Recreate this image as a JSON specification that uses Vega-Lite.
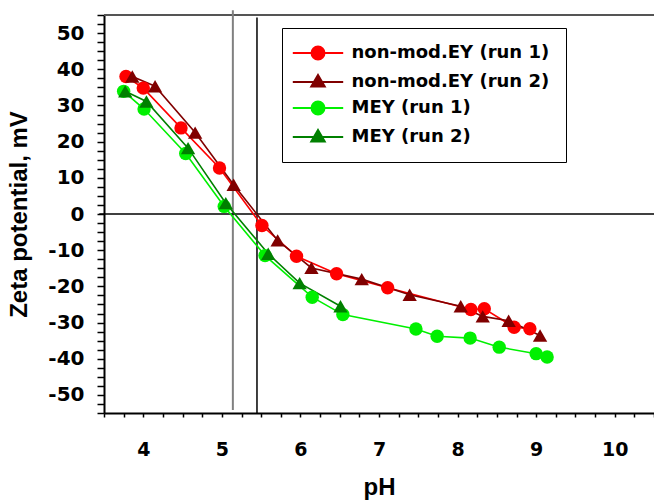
{
  "$schema": "https://vega.github.io/schema/vega-lite/v6.json",
  "width": 550,
  "height": 398,
  "autosize": "none",
  "padding": {"left": 104, "top": 15, "right": 0, "bottom": 87},
  "background": "white",
  "config": {
    "view": {"stroke": null},
    "axis": {
      "grid": false,
      "domainColor": "black",
      "domainWidth": 2,
      "tickColor": "black",
      "tickWidth": 1.5,
      "labelColor": "black",
      "labelFont": "DejaVu Sans",
      "labelFontWeight": "bold",
      "labelFontSize": 19,
      "titleColor": "black",
      "titleFont": "Liberation Sans",
      "titleFontWeight": "bold",
      "titleFontSize": 24,
      "labelOverlap": false,
      "labelFlush": false,
      "labelBound": false
    },
    "legend": {"strokeWidth": 1}
  },
  "layer": [
    {
      "data": {"values": [{"pH": 3.5, "pH2": 10.5, "zeta": 55}]},
      "mark": {"type": "rule", "color": "#555555", "strokeWidth": 2},
      "encoding": {
        "x": {"field": "pH", "type": "quantitative"},
        "x2": {"field": "pH2"},
        "y": {"field": "zeta", "type": "quantitative"}
      }
    },
    {
      "data": {"values": [{"pH": 5.14, "zeta": -54.2, "zeta2": 56.3}]},
      "mark": {"type": "rule", "color": "#808080", "strokeWidth": 2},
      "encoding": {
        "x": {"field": "pH", "type": "quantitative"},
        "y": {"field": "zeta", "type": "quantitative"},
        "y2": {"field": "zeta2"}
      }
    },
    {
      "data": {"values": [{"pH": 5.447, "zeta": -55, "zeta2": 54.3}]},
      "mark": {"type": "rule", "color": "black", "strokeWidth": 1.5},
      "encoding": {
        "x": {"field": "pH", "type": "quantitative"},
        "y": {"field": "zeta", "type": "quantitative"},
        "y2": {"field": "zeta2"}
      }
    },
    {
      "data": {"values": [{"pH": 3.44, "pH2": 10.5, "zeta": 0}]},
      "mark": {"type": "rule", "color": "black", "strokeWidth": 1.5},
      "encoding": {
        "x": {"field": "pH", "type": "quantitative"},
        "x2": {"field": "pH2"},
        "y": {"field": "zeta", "type": "quantitative"}
      }
    },
    {
      "data": {"name": "series"},
      "layer": [
        {
          "transform": [{"filter": "false"}],
          "mark": {"type": "point", "filled": true, "size": 144, "opacity": 1, "strokeWidth": 2},
          "encoding": {
            "x": {
              "field": "pH", "type": "quantitative",
              "scale": {"domain": [3.5, 10.5], "nice": false, "zero": false},
              "axis": {
                "title": "pH",
                "values": [3.5,3.75,4,4.25,4.5,4.75,5,5.25,5.5,5.75,6,6.25,6.5,6.75,7,7.25,7.5,7.75,8,8.25,8.5,8.75,9,9.25,9.5,9.75,10,10.25,10.5],
                "tickCount": 100,
                "labelExpr": "datum.value % 1 == 0 ? '' + datum.value : ''",
                "tickSize": 4,
                "labelPadding": 23,
                "titlePadding": 16,
                "encode": {"ticks": {"update": {
                  "y": [{"test": "datum.value % 1 == 0", "value": -6}, {"value": 0}],
                  "y2": [{"test": "datum.value % 1 == 0", "value": 4}, {"value": 3}]
                }}}
              }
            },
            "y": {
              "field": "zeta", "type": "quantitative",
              "scale": {"domain": [-55, 55], "nice": false, "zero": false},
              "axis": {
                "title": "Zeta potential, mV",
                "values": [-55,-52.5,-50,-47.5,-45,-42.5,-40,-37.5,-35,-32.5,-30,-27.5,-25,-22.5,-20,-17.5,-15,-12.5,-10,-7.5,-5,-2.5,0,2.5,5,7.5,10,12.5,15,17.5,20,22.5,25,27.5,30,32.5,35,37.5,40,42.5,45,47.5,50,52.5,55],
                "tickCount": 100,
                "labelExpr": "datum.value % 10 == 0 ? '' + datum.value : ''",
                "labelFontSize": 20,
                "tickSize": 7,
                "labelPadding": 13,
                "titlePadding": 16,
                "encode": {"ticks": {"update": {
                  "x": [{"test": "datum.value % 10 == 0", "value": 5}, {"value": 0}],
                  "x2": [{"test": "datum.value % 10 == 0", "value": -7}, {"value": -4}]
                }}}
              }
            },
            "color": {
              "field": "series", "type": "nominal",
              "scale": {"domain": ["non-mod.EY (run 1)", "non-mod.EY (run 2)", "MEY (run 1)", "MEY (run 2)"], "range": ["#ff0000", "#800000", "#00f000", "#008000"]},
              "legend": {
                "orient": "none", "legendX": 178, "legendY": 13, "title": null,
                "padding": 16, "strokeColor": "black", "fillColor": "white",
                "labelFont": "DejaVu Sans", "labelFontWeight": "bold", "labelFontSize": 18, "labelColor": "black", "labelLimit": 400,
                "symbolSize": 144, "symbolStrokeWidth": 2, "symbolOffset": 11, "labelOffset": 24.5, "rowPadding": 6
              }
            },
            "stroke": {
              "field": "series", "type": "nominal",
              "scale": {"domain": ["non-mod.EY (run 1)", "non-mod.EY (run 2)", "MEY (run 1)", "MEY (run 2)"], "range": ["#ff0000", "#800000", "#00f000", "#008000"]},
              "legend": {
                "orient": "none", "legendX": 178, "legendY": 13, "title": null,
                "padding": 16, "strokeColor": "black", "fillColor": "white",
                "labelFont": "DejaVu Sans", "labelFontWeight": "bold", "labelFontSize": 18, "labelColor": "black", "labelLimit": 400,
                "symbolSize": 144, "symbolStrokeWidth": 2, "symbolOffset": 11, "labelOffset": 24.5, "rowPadding": 6
              }
            },
            "shape": {
              "field": "series", "type": "nominal",
              "scale": {"domain": ["non-mod.EY (run 1)", "non-mod.EY (run 2)", "MEY (run 1)", "MEY (run 2)"], "range": ["M-4.2,0H4.2M1.08,0A1.08,1.08 0 1 1 -1.08,0A1.08,1.08 0 1 1 1.08,0Z", "M-4.2,0H4.2M0,-1.17L1.12,0.75L-1.12,0.75Z", "M-4.2,0H4.2M1.08,0A1.08,1.08 0 1 1 -1.08,0A1.08,1.08 0 1 1 1.08,0Z", "M-4.2,0H4.2M0,-1.17L1.12,0.75L-1.12,0.75Z"]},
              "legend": {
                "orient": "none", "legendX": 178, "legendY": 13, "title": null,
                "padding": 16, "strokeColor": "black", "fillColor": "white",
                "labelFont": "DejaVu Sans", "labelFontWeight": "bold", "labelFontSize": 18, "labelColor": "black", "labelLimit": 400,
                "symbolSize": 144, "symbolStrokeWidth": 2, "symbolOffset": 11, "labelOffset": 24.5, "rowPadding": 6
              }
            }
          }
        },
        {
          "mark": {"type": "line", "strokeWidth": 1.6},
          "encoding": {
            "x": {"field": "pH", "type": "quantitative"},
            "y": {"field": "zeta", "type": "quantitative"},
            "color": {"field": "series", "type": "nominal"}
          }
        },
        {
          "transform": [{"filter": "indexof(datum.series, 'run 1') >= 0"}],
          "mark": {"type": "point", "shape": "circle", "filled": true, "size": 180, "opacity": 1, "strokeWidth": 0},
          "encoding": {
            "x": {"field": "pH", "type": "quantitative"},
            "y": {"field": "zeta", "type": "quantitative"},
            "color": {"field": "series", "type": "nominal"}
          }
        },
        {
          "transform": [{"filter": "indexof(datum.series, 'run 2') >= 0"}],
          "mark": {"type": "point", "shape": "triangle-up", "filled": true, "size": 205, "opacity": 1, "strokeWidth": 0},
          "encoding": {
            "x": {"field": "pH", "type": "quantitative"},
            "y": {"field": "zeta", "type": "quantitative"},
            "color": {"field": "series", "type": "nominal"}
          }
        }
      ]
    }
  ],
  "datasets": {
    "series": [
      {"series": "non-mod.EY (run 1)", "pH": 3.78, "zeta": 38.0},
      {"series": "non-mod.EY (run 1)", "pH": 4.0, "zeta": 34.8},
      {"series": "non-mod.EY (run 1)", "pH": 4.48, "zeta": 23.8},
      {"series": "non-mod.EY (run 1)", "pH": 4.97, "zeta": 12.7},
      {"series": "non-mod.EY (run 1)", "pH": 5.51, "zeta": -3.2},
      {"series": "non-mod.EY (run 1)", "pH": 5.95, "zeta": -11.7},
      {"series": "non-mod.EY (run 1)", "pH": 6.46, "zeta": -16.5},
      {"series": "non-mod.EY (run 1)", "pH": 7.11, "zeta": -20.4},
      {"series": "non-mod.EY (run 1)", "pH": 8.17, "zeta": -26.4},
      {"series": "non-mod.EY (run 1)", "pH": 8.34, "zeta": -26.2},
      {"series": "non-mod.EY (run 1)", "pH": 8.72, "zeta": -31.3},
      {"series": "non-mod.EY (run 1)", "pH": 8.92, "zeta": -31.7},
      {"series": "non-mod.EY (run 2)", "pH": 3.86, "zeta": 38.0},
      {"series": "non-mod.EY (run 2)", "pH": 4.15, "zeta": 35.3},
      {"series": "non-mod.EY (run 2)", "pH": 4.66, "zeta": 22.5},
      {"series": "non-mod.EY (run 2)", "pH": 5.15, "zeta": 8.1},
      {"series": "non-mod.EY (run 2)", "pH": 5.71, "zeta": -7.3},
      {"series": "non-mod.EY (run 2)", "pH": 6.14, "zeta": -14.9},
      {"series": "non-mod.EY (run 2)", "pH": 6.78, "zeta": -18.0},
      {"series": "non-mod.EY (run 2)", "pH": 7.39, "zeta": -22.3},
      {"series": "non-mod.EY (run 2)", "pH": 8.04, "zeta": -25.5},
      {"series": "non-mod.EY (run 2)", "pH": 8.32, "zeta": -28.3},
      {"series": "non-mod.EY (run 2)", "pH": 8.65, "zeta": -29.5},
      {"series": "non-mod.EY (run 2)", "pH": 9.05, "zeta": -33.6},
      {"series": "MEY (run 1)", "pH": 3.75, "zeta": 33.9},
      {"series": "MEY (run 1)", "pH": 4.01, "zeta": 29.0},
      {"series": "MEY (run 1)", "pH": 4.54, "zeta": 16.7},
      {"series": "MEY (run 1)", "pH": 5.03, "zeta": 2.1},
      {"series": "MEY (run 1)", "pH": 5.55, "zeta": -11.5},
      {"series": "MEY (run 1)", "pH": 6.15, "zeta": -23.0},
      {"series": "MEY (run 1)", "pH": 6.54, "zeta": -27.8},
      {"series": "MEY (run 1)", "pH": 7.47, "zeta": -31.8},
      {"series": "MEY (run 1)", "pH": 7.74, "zeta": -33.8},
      {"series": "MEY (run 1)", "pH": 8.16, "zeta": -34.3},
      {"series": "MEY (run 1)", "pH": 8.53, "zeta": -36.8},
      {"series": "MEY (run 1)", "pH": 9.0, "zeta": -38.6},
      {"series": "MEY (run 1)", "pH": 9.14, "zeta": -39.5},
      {"series": "MEY (run 2)", "pH": 3.77, "zeta": 33.9},
      {"series": "MEY (run 2)", "pH": 4.04, "zeta": 31.1},
      {"series": "MEY (run 2)", "pH": 4.57, "zeta": 18.2},
      {"series": "MEY (run 2)", "pH": 5.05, "zeta": 3.0},
      {"series": "MEY (run 2)", "pH": 5.59, "zeta": -11.0},
      {"series": "MEY (run 2)", "pH": 5.99, "zeta": -19.1},
      {"series": "MEY (run 2)", "pH": 6.51, "zeta": -25.5}
    ]
  }
}
